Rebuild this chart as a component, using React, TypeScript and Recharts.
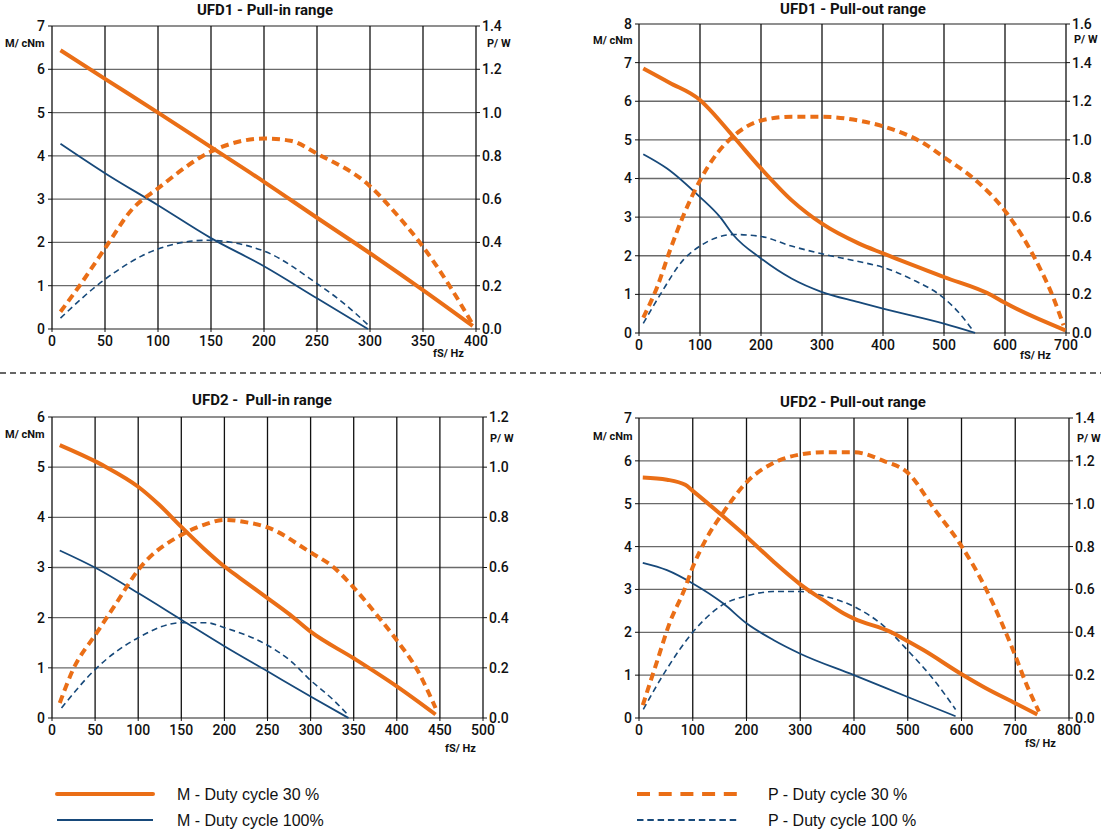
import React from 'react';
import { LineChart, Line, XAxis, YAxis, CartesianGrid } from 'recharts';

type Pt = [number, number];

const ORANGE = '#EA6E16';
const BLUE = '#17497A';

// UFD1 - Pull-in range
const ufd1InHz = [0, 50, 100, 150, 200, 250, 300, 350, 400];
const ufd1InM = [0, 1, 2, 3, 4, 5, 6, 7];
const ufd1InP = [0, 0.2, 0.4, 0.6, 0.8, 1.0, 1.2, 1.4];
const ufd1InM30: Pt[] = [[8, 6.44], [50, 5.78], [100, 5.0], [150, 4.2], [200, 3.4], [250, 2.57], [300, 1.75], [350, 0.9], [397, 0.07]];
const ufd1InM100: Pt[] = [[8, 4.28], [50, 3.6], [100, 2.86], [150, 2.1], [200, 1.45], [250, 0.71], [298, 0]];
const ufd1InP30: Pt[] = [[8, 0.08], [26, 0.2], [51, 0.38], [75, 0.55], [100, 0.65], [150, 0.82], [200, 0.88], [225, 0.87], [250, 0.81], [300, 0.66], [325, 0.53], [350, 0.38], [375, 0.2], [397, 0.02]];
const ufd1InP100: Pt[] = [[8, 0.05], [50, 0.23], [100, 0.37], [146, 0.41], [200, 0.36], [250, 0.21], [275, 0.12], [298, 0.02]];

// UFD1 - Pull-out range
const ufd1OutHz = [0, 100, 200, 300, 400, 500, 600, 700];
const ufd1OutM = [0, 1, 2, 3, 4, 5, 6, 7, 8];
const ufd1OutP = [0, 0.2, 0.4, 0.6, 0.8, 1.0, 1.2, 1.4, 1.6];
const ufd1OutM30: Pt[] = [[7, 6.85], [50, 6.48], [100, 6.03], [110, 5.88], [155, 5.08], [200, 4.26], [250, 3.44], [300, 2.83], [360, 2.32], [400, 2.06], [500, 1.45], [578, 0.98], [600, 0.78], [699, 0.07]];
const ufd1OutM100: Pt[] = [[7, 4.63], [46, 4.26], [100, 3.52], [133, 3.0], [155, 2.53], [200, 1.93], [250, 1.41], [300, 1.06], [360, 0.8], [400, 0.63], [500, 0.24], [551, 0]];
const ufd1OutP30: Pt[] = [[7, 0.08], [30, 0.24], [51, 0.43], [73, 0.61], [100, 0.79], [128, 0.93], [155, 1.02], [200, 1.1], [250, 1.12], [300, 1.12], [360, 1.1], [400, 1.07], [468, 0.98], [500, 0.91], [556, 0.78], [603, 0.62], [650, 0.38], [677, 0.2], [696, 0.04]];
const ufd1OutP100: Pt[] = [[7, 0.05], [35, 0.2], [73, 0.38], [100, 0.45], [155, 0.51], [200, 0.5], [250, 0.45], [300, 0.41], [360, 0.37], [400, 0.34], [446, 0.28], [500, 0.18], [523, 0.11], [548, 0.01]];

// UFD2 - Pull-in range
const ufd2InHz = [0, 50, 100, 150, 200, 250, 300, 350, 400, 450, 500];
const ufd2InM = [0, 1, 2, 3, 4, 5, 6];
const ufd2InP = [0, 0.2, 0.4, 0.6, 0.8, 1.0, 1.2];
const ufd2InM30: Pt[] = [[9, 5.44], [52, 5.1], [63, 5.0], [100, 4.61], [125, 4.24], [150, 3.81], [176, 3.38], [200, 3.02], [218, 2.79], [250, 2.39], [276, 2.06], [300, 1.72], [350, 1.19], [400, 0.63], [445, 0.07]];
const ufd2InM100: Pt[] = [[9, 3.34], [52, 2.98], [100, 2.49], [150, 1.96], [200, 1.43], [250, 0.93], [300, 0.43], [344, 0]];
const ufd2InP30: Pt[] = [[9, 0.06], [24, 0.19], [52, 0.34], [75, 0.46], [100, 0.59], [150, 0.73], [176, 0.77], [200, 0.79], [226, 0.78], [250, 0.76], [300, 0.66], [327, 0.6], [350, 0.52], [377, 0.41], [400, 0.31], [424, 0.19], [445, 0.04]];
const ufd2InP100: Pt[] = [[11, 0.04], [52, 0.2], [100, 0.32], [150, 0.38], [179, 0.38], [200, 0.36], [250, 0.29], [276, 0.23], [300, 0.15], [327, 0.07], [344, 0.01]];

// UFD2 - Pull-out range
const ufd2OutHz = [0, 100, 200, 300, 400, 500, 600, 700, 800];
const ufd2OutM = [0, 1, 2, 3, 4, 5, 6, 7];
const ufd2OutP = [0, 0.2, 0.4, 0.6, 0.8, 1.0, 1.2, 1.4];
const ufd2OutM30: Pt[] = [[7, 5.61], [52, 5.56], [86, 5.44], [100, 5.3], [157, 4.7], [200, 4.23], [250, 3.65], [300, 3.12], [343, 2.75], [381, 2.44], [400, 2.32], [468, 2.01], [502, 1.78], [530, 1.58], [598, 1.04], [642, 0.72], [701, 0.34], [741, 0.08]];
const ufd2OutM100: Pt[] = [[7, 3.62], [52, 3.45], [100, 3.14], [157, 2.67], [200, 2.21], [250, 1.82], [300, 1.5], [400, 1.0], [500, 0.49], [589, 0.04]];
const ufd2OutP30: Pt[] = [[7, 0.06], [33, 0.26], [58, 0.45], [83, 0.59], [101, 0.71], [126, 0.84], [157, 0.96], [200, 1.1], [250, 1.19], [300, 1.23], [343, 1.24], [400, 1.24], [455, 1.2], [502, 1.14], [548, 0.98], [598, 0.81], [648, 0.59], [697, 0.31], [722, 0.15], [744, 0.03]];
const ufd2OutP100: Pt[] = [[8, 0.04], [52, 0.23], [100, 0.4], [157, 0.53], [200, 0.57], [250, 0.59], [300, 0.59], [343, 0.57], [400, 0.52], [455, 0.43], [502, 0.31], [548, 0.18], [589, 0.04]];

const AXIS_L = 50;
const AXIS_R = 40;
const PAD_T = 10;
const AXIS_B = 30;

const tickStyle = { fontSize: 14, fill: '#111', fontFamily: 'Roboto', fontWeight: 500 };
const toRows = (pts: Pt[]) => pts.map(([f, v]) => ({ f, v }));

interface PanelProps {
  left: number;
  top: number;
  right: number;
  bottom: number;
  hz: number[];
  mTicks: number[];
  pTicks: number[];
  m30: Pt[];
  m100: Pt[];
  p30: Pt[];
  p100: Pt[];
}

const Panel: React.FC<PanelProps> = ({ left, top, right, bottom, hz, mTicks, pTicks, m30, m100, p30, p100 }) => {
  const w = right - left + AXIS_L + AXIS_R;
  const h = bottom - top + PAD_T + AXIS_B;
  const maxHz = hz[hz.length - 1];
  const maxM = mTicks[mTicks.length - 1];
  const maxP = pTicks[pTicks.length - 1];
  return (
    <div style={{ position: 'absolute', left: left - AXIS_L, top: top - PAD_T }}>
      <LineChart width={w} height={h} margin={{ top: PAD_T, right: 0, bottom: 0, left: 0 }}>
        <CartesianGrid yAxisId="m" vertical={false} stroke="#6a6a6a" strokeWidth={1.3} />
        <CartesianGrid yAxisId="m" horizontal={false} stroke="#111" strokeWidth={1.3} />
        <XAxis
          dataKey="f"
          type="number"
          domain={[0, maxHz]}
          ticks={hz}
          height={AXIS_B}
          tick={tickStyle}
          tickSize={3}
          tickMargin={4}
          axisLine={false}
          stroke="#111"
          allowDuplicatedCategory={false}
        />
        <YAxis
          yAxisId="m"
          domain={[0, maxM]}
          ticks={mTicks}
          width={AXIS_L}
          tick={tickStyle}
          tickSize={4}
          tickMargin={3}
          axisLine={false}
          stroke="#111"
        />
        <YAxis
          yAxisId="p"
          orientation="right"
          domain={[0, maxP]}
          ticks={pTicks}
          width={AXIS_R}
          tick={tickStyle}
          tickSize={4}
          tickMargin={2}
          axisLine={false}
          stroke="#111"
          tickFormatter={(v: number) => v.toFixed(1)}
        />
        <Line yAxisId="p" data={toRows(p100)} dataKey="v" type="monotone" stroke={BLUE} strokeWidth={1.6} strokeDasharray="6 4" dot={false} isAnimationActive={false} />
        <Line yAxisId="m" data={toRows(m100)} dataKey="v" type="monotone" stroke={BLUE} strokeWidth={1.8} dot={false} isAnimationActive={false} />
        <Line yAxisId="p" data={toRows(p30)} dataKey="v" type="monotone" stroke={ORANGE} strokeWidth={4} strokeDasharray="8 5" dot={false} isAnimationActive={false} />
        <Line yAxisId="m" data={toRows(m30)} dataKey="v" type="monotone" stroke={ORANGE} strokeWidth={4} dot={false} isAnimationActive={false} />
      </LineChart>
    </div>
  );
};

const bold = { fontFamily: 'Roboto', fontWeight: 700, fill: '#111' } as const;

const Labels: React.FC<{ title: string; tx: number; ty: number; mx: number; my: number; px: number; py: number; fx: number; fy: number }> = ({ title, tx, ty, mx, my, px, py, fx, fy }) => (
  <g>
    <text x={tx} y={ty} textAnchor="middle" dominantBaseline="central" fontSize={15} style={{ whiteSpace: 'pre' }} {...bold}>{title}</text>
    <text x={mx} y={my} dominantBaseline="central" fontSize={11} {...bold}>M/ cNm</text>
    <text x={px} y={py} dominantBaseline="central" fontSize={11} {...bold}>P/ W</text>
    <text x={fx} y={fy} dominantBaseline="central" fontSize={11} {...bold}>fS/ Hz</text>
  </g>
);

const legendText = { fontFamily: '"Liberation Sans", Arial, sans-serif', fontSize: 16, fill: '#111' };

export default function App() {
  return (
    <div style={{ position: 'absolute', left: 0, top: 0, width: 1101, height: 832, background: '#fff', overflow: 'hidden' }}>
      <Panel left={52} top={26} right={476} bottom={329} hz={ufd1InHz} mTicks={ufd1InM} pTicks={ufd1InP} m30={ufd1InM30} m100={ufd1InM100} p30={ufd1InP30} p100={ufd1InP100} />
      <Panel left={639} top={24} right={1066} bottom={333} hz={ufd1OutHz} mTicks={ufd1OutM} pTicks={ufd1OutP} m30={ufd1OutM30} m100={ufd1OutM100} p30={ufd1OutP30} p100={ufd1OutP100} />
      <Panel left={52} top={417} right={483} bottom={718} hz={ufd2InHz} mTicks={ufd2InM} pTicks={ufd2InP} m30={ufd2InM30} m100={ufd2InM100} p30={ufd2InP30} p100={ufd2InP100} />
      <Panel left={639} top={418} right={1069} bottom={718} hz={ufd2OutHz} mTicks={ufd2OutM} pTicks={ufd2OutP} m30={ufd2OutM30} m100={ufd2OutM100} p30={ufd2OutP30} p100={ufd2OutP100} />
      <svg width={1101} height={832} style={{ position: 'absolute', left: 0, top: 0, pointerEvents: 'none' }}>
        <Labels title="UFD1 - Pull-in range" tx={265} ty={10} mx={5} my={43} px={487} py={43} fx={433} fy={353} />
        <Labels title="UFD1 - Pull-out range" tx={853} ty={9} mx={593} my={40} px={1074} py={39} fx={1020} fy={355} />
        <Labels title="UFD2 -  Pull-in range" tx={262} ty={400} mx={5} my={434} px={490} py={438} fx={445} fy={748} />
        <Labels title="UFD2 - Pull-out range" tx={853} ty={402} mx={593} my={436} px={1077} py={438} fx={1025} fy={743} />
        <line x1={0} y1={373} x2={1101} y2={373} stroke="#333" strokeWidth={1.5} strokeDasharray="6 4" />
        <line x1={57} y1={794} x2={153} y2={794} stroke={ORANGE} strokeWidth={4} strokeLinecap="round" />
        <line x1={57} y1={820} x2={153} y2={820} stroke={BLUE} strokeWidth={2} />
        <text x={177} y={794} dominantBaseline="central" {...legendText}>M - Duty cycle 30 %</text>
        <text x={177} y={820} dominantBaseline="central" {...legendText}>M - Duty cycle 100%</text>
        <line x1={637} y1={794} x2={737} y2={794} stroke={ORANGE} strokeWidth={4} strokeDasharray="13 8.7" />
        <line x1={637} y1={820} x2={737} y2={820} stroke={BLUE} strokeWidth={2} strokeDasharray="6.5 3.8" />
        <text x={768} y={794} dominantBaseline="central" {...legendText}>P - Duty cycle 30 %</text>
        <text x={768} y={820} dominantBaseline="central" {...legendText}>P - Duty cycle 100 %</text>
      </svg>
    </div>
  );
}
